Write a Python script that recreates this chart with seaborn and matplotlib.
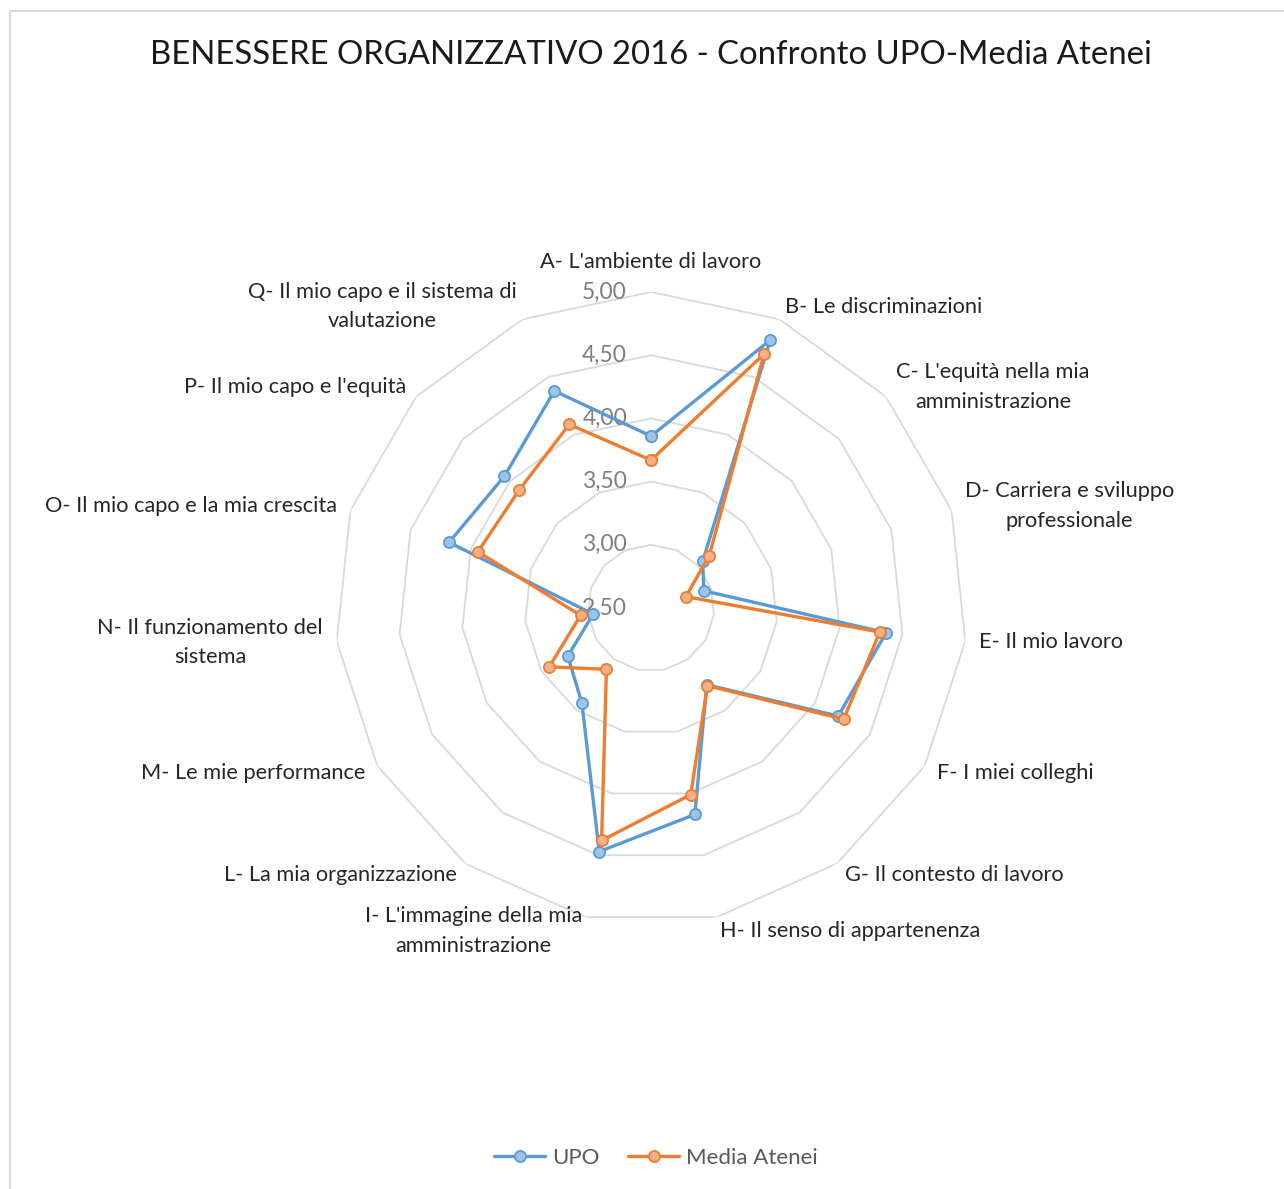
import numpy as np
import pandas as pd
import matplotlib.pyplot as plt
import seaborn as sns
from matplotlib.patches import Rectangle

# ------ data
categorie = ["A- L'ambiente di lavoro", "B- Le discriminazioni",
             "C- L'equità nella mia\namministrazione",
             "D- Carriera e sviluppo\nprofessionale", "E- Il mio lavoro",
             "F- I miei colleghi", "G- Il contesto di lavoro",
             "H- Il senso di appartenenza",
             "I- L'immagine della mia\namministrazione",
             "L- La mia organizzazione", "M- Le mie performance",
             "N- Il funzionamento del\nsistema",
             "O- Il mio capo e la mia crescita",
             "P- Il mio capo e l'equità",
             "Q- Il mio capo e il sistema di\nvalutazione"]
upo = [3.86, 4.82, 3.05, 2.94, 4.37, 4.21, 3.25, 4.17, 4.47, 3.43, 3.26, 2.96, 4.18, 4.06, 4.38]
media_atenei = [3.67, 4.70, 3.12, 2.79, 4.32, 4.26, 3.26, 4.01, 4.38, 3.10, 3.43, 3.06, 3.94, 3.90, 4.09]
livelli = [2.5, 3.0, 3.5, 4.0, 4.5, 5.0]

sns.set_style('white')
plt.rcParams['font.family'] = ['Lato', 'DejaVu Sans']

n = len(categorie)
theta = np.linspace(0, 2 * np.pi, n, endpoint=False)
theta_chiuso = np.append(theta, 2 * np.pi)

W, H = 1284, 1189
fig = plt.figure(figsize=(W / 100, H / 100), dpi=100)
cx, cy, rad = 651, 608, 316
ax = fig.add_axes([(cx - rad) / W, (H - cy - rad) / H, 2 * rad / W, 2 * rad / H], projection='polar')
ax.set_theta_zero_location('N')
ax.set_theta_direction(-1)

# polygon grid (Excel radar style)
for lev in livelli[1:]:
    ax.plot(theta_chiuso, [lev] * (n + 1), color='#d9d9d9', lw=1.3, zorder=1)

# series
serie = [('UPO', upo, '#5b9bd5', '#9dc3e6'),
         ('Media Atenei', media_atenei, '#ed7d31', '#f4b183')]
for nome, vals, col, fill in serie:
    df = pd.DataFrame({'theta': theta_chiuso, 'val': vals + vals[:1]})
    sns.lineplot(data=df, x='theta', y='val', ax=ax, sort=False, estimator=None,
                 color=col, lw=2.4, marker='o', markersize=8, markerfacecolor=fill,
                 markeredgecolor=col, markeredgewidth=1.3, label=nome, zorder=3)

ax.set_xticks([])
ax.set_yticks([])
ax.grid(False)
ax.spines['polar'].set_visible(False)
ax.set_ylim(2.5, 5.0)
ax.set_xlabel('')
ax.set_ylabel('')
ax.get_legend().remove()

# radial labels
for lev in livelli:
    ax.annotate(f'{lev:.2f}'.replace('.', ','), xy=(0, lev), xytext=(-24, 0),
                textcoords='offset pixels', ha='right', va='center',
                fontsize=16.5, color='#7f7f7f', zorder=2)

# category labels
for th, lab in zip(theta, categorie):
    sx, cyy = np.sin(th), np.cos(th)
    if sx > 0.05:
        ha = 'left'
    elif sx < -0.05:
        ha = 'right'
    else:
        ha = 'center'
    d = 30 if abs(sx) < 0.05 else 14
    ax.annotate(lab, xy=(th, 5.0), xytext=(d * sx, d * cyy), textcoords='offset pixels',
                ha=ha, va='center', multialignment='center', linespacing=1.6,
                fontsize=15.7, color='#262626', annotation_clip=False)

fig.text(651 / W, 1 - 55 / H, 'BENESSERE ORGANIZZATIVO 2016 - Confronto UPO-Media Atenei',
         ha='center', va='center', fontsize=23.7, color='#1a1a1a')

handles, labels = ax.get_legend_handles_labels()
fig.legend(handles, labels, loc='center', bbox_to_anchor=(656 / W, 1 - 1158 / H), ncol=2,
           frameon=False, fontsize=16, labelcolor='#595959', handlelength=2.3,
           columnspacing=1.3, handletextpad=0.3)

fig.add_artist(Rectangle((10 / W, -0.05), 1.2, 1 - 11 / H + 0.05, transform=fig.transFigure,
                         fill=False, ec='#d9d9d9', lw=1.5))

fig.savefig('out.png', dpi=100, facecolor='white')
